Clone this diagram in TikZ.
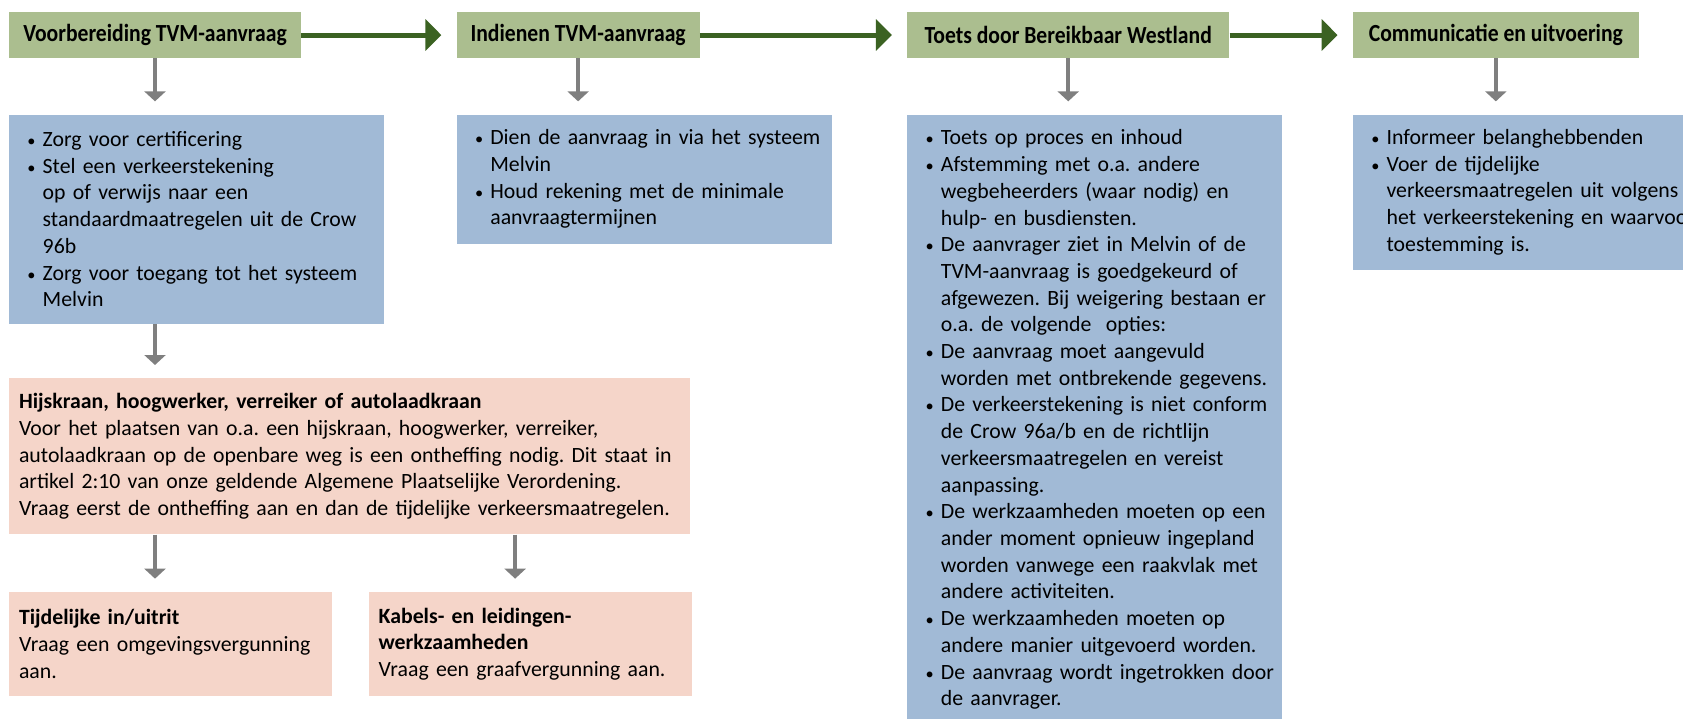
\documentclass[tikz,border=0pt]{standalone}
\usepackage{fontspec}
\setmainfont{Carlito}
\newfontfamily\phasefont{Carlito}[FakeStretch=0.88]
\usepackage{xcolor}
\definecolor{tvmGreen}{HTML}{ABBE8F}
\definecolor{tvmDarkGreen}{HTML}{3B6222}
\definecolor{tvmBlue}{HTML}{A1BAD6}
\definecolor{tvmPink}{HTML}{F5D5C9}
\definecolor{tvmGray}{HTML}{7F7F7F}
\usetikzlibrary{arrows.meta,positioning,calc}
\frenchspacing
\newcommand{\bulline}[1]{\mbox{\hspace{0.8pt}\makebox[8.7pt][l]{\scalebox{0.75}{\textbullet}}#1}}
\newcommand{\contline}[1]{\mbox{\hspace{9.5pt}#1}}
\tikzset{
    phase/.style={
        fill=tvmGreen,
        rectangle,
        minimum height=0.92cm,
        inner sep=0pt,
        font=\phasefont\bfseries\fontsize{14}{16}\selectfont
    },
    taskbox/.style={
        fill=tvmBlue,
        rectangle,
        minimum width=7.5cm,
        text width=6.82cm,
        inner xsep=0.34cm,
        inner ysep=0pt,
        align=left,
        font=\fontsize{12.4}{15.2}\selectfont
    },
    permitbox/.style={
        fill=tvmPink,
        rectangle,
        inner xsep=0.2cm,
        inner ysep=0pt,
        align=left,
        font=\fontsize{12.4}{15.2}\selectfont
    },
    flowarrow/.style={
        -{Triangle[length=0.32cm,width=0.62cm]},
        line width=0.1cm,
        color=tvmDarkGreen,
        shorten >=0.3cm
    },
    downarrow/.style={
        -{Triangle[length=0.2cm,width=0.42cm]},
        line width=0.07cm,
        color=tvmGray,
        shorten >=0.26cm
    }
}

\begin{document}
\begin{tikzpicture}[x=0.02cm, y=-0.02cm]
    \useasboundingbox (0,0) rectangle (1683,718);

    % Phases
    \node[phase, minimum width=5.84cm] (prep) at (155,35) {Voorbereiding TVM-aanvraag};
    \node[phase, minimum width=4.86cm, right=3.1cm of prep] (submit) {Indienen TVM-aanvraag};
    \node[phase, minimum width=6.44cm, right=4.14cm of submit] (review) {Toets door Bereikbaar Westland};
    \node[phase, minimum width=5.72cm, right=2.46cm of review] (execute) {Communicatie en uitvoering};

    % Tasks per phase
    \node[taskbox, minimum height=4.18cm, below=1.12cm of prep.south west, anchor=north west] (prepTasks) {%
        \bulline{Zorg voor certificering}\\
        \bulline{Stel een verkeerstekening}\\
        \contline{op of verwijs naar een}\\
        \contline{standaardmaatregelen uit de Crow}\\
        \contline{96b}\\
        \bulline{Zorg voor toegang tot het systeem}\\
        \contline{Melvin}};
    \node[taskbox, minimum height=2.58cm, below=1.12cm of submit.south west, anchor=north west] (submitTasks) {%
        \bulline{Dien de aanvraag in via het systeem}\\
        \contline{Melvin}\\
        \bulline{Houd rekening met de minimale}\\
        \contline{aanvraagtermijnen}};
    \node[taskbox, minimum height=12.2cm, below=1.12cm of review.south west, anchor=north west] (reviewTasks) {%
        \bulline{Toets op proces en inhoud}\\
        \bulline{Afstemming met o.a. andere}\\
        \contline{wegbeheerders (waar nodig) en}\\
        \contline{hulp- en busdiensten.}\\
        \bulline{De aanvrager ziet in Melvin of de}\\
        \contline{TVM-aanvraag is goedgekeurd of}\\
        \contline{afgewezen. Bij weigering bestaan er}\\
        \contline{o.a. de volgende~ opties:}\\
        \bulline{De aanvraag moet aangevuld}\\
        \contline{worden met ontbrekende gegevens.}\\
        \bulline{De verkeerstekening is niet conform}\\
        \contline{de Crow 96a/b en de richtlijn}\\
        \contline{verkeersmaatregelen en vereist}\\
        \contline{aanpassing.}\\
        \bulline{De werkzaamheden moeten op een}\\
        \contline{ander moment opnieuw ingepland}\\
        \contline{worden vanwege een raakvlak met}\\
        \contline{andere activiteiten.}\\
        \bulline{De werkzaamheden moeten op}\\
        \contline{andere manier uitgevoerd worden.}\\
        \bulline{De aanvraag wordt ingetrokken door}\\
        \contline{de aanvrager.}};
    \node[taskbox, minimum height=3.1cm, below=1.12cm of execute.south west, anchor=north west] (executeTasks) {%
        \bulline{Informeer belanghebbenden}\\
        \bulline{Voer de tijdelijke}\\
        \contline{verkeersmaatregelen uit volgens}\\
        \contline{het verkeerstekening en waarvoor}\\
        \contline{toestemming is.}};

    % Permits
    \node[permitbox, text width=13.22cm, minimum height=3.12cm, below=1.08cm of prepTasks.south west, anchor=north west] (crane) {%
        \textbf{Hijskraan, hoogwerker, verreiker of autolaadkraan}\\
        Voor het plaatsen van o.a. een hijskraan, hoogwerker, verreiker,\\
        autolaadkraan op de openbare weg is een ontheffing nodig. Dit staat in\\
        artikel 2:10 van onze geldende Algemene Plaatselijke Verordening.\\
        Vraag eerst de ontheffing aan en dan de tijdelijke verkeersmaatregelen.};
    \node[permitbox, text width=6.06cm, minimum height=2.08cm, below=1.14cm of crane.south west, anchor=north west] (entrance) {%
        \textbf{Tijdelijke in/uitrit}\\
        Vraag een omgevingsvergunning\\
        aan.};
    \node[permitbox, text width=6.06cm, minimum height=2.08cm, right=0.72cm of entrance] (cables) {%
        \textbf{Kabels- en leidingen-}\\
        \textbf{werkzaamheden}\\
        Vraag een graafvergunning aan.};

    % Connections
    \draw[flowarrow] (prep) -- (submit);
    \draw[flowarrow] (submit) -- (review);
    \draw[flowarrow] (review) -- (execute);
    \foreach \a/\b in {prep/prepTasks, submit/submitTasks, review/reviewTasks, execute/executeTasks}
        \draw[downarrow] (\a.south) -- (\a.south |- \b.north);
    \draw[downarrow] (prep.south |- prepTasks.south) -- (prep.south |- crane.north);
    \draw[downarrow] (prep.south |- crane.south) -- (prep.south |- entrance.north);
    \coordinate (cablesIn) at ([xshift=-0.3cm]cables.north);
    \draw[downarrow] (cablesIn |- crane.south) -- (cablesIn);
\end{tikzpicture}
\end{document}
